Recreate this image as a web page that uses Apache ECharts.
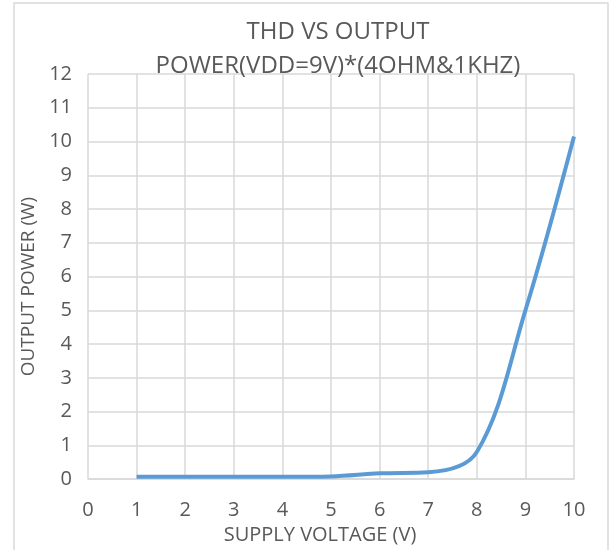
<!DOCTYPE html>
<html>
<head>
<meta charset="utf-8">
<script src="https://cdn.jsdelivr.net/npm/echarts@6/dist/echarts.min.js"></script>
<style>
  html, body { margin: 0; padding: 0; background: #fff; }
  #main { width: 611px; height: 550px; }
</style>
</head>
<body>
<div id="main"></div>
<script>
  // supply voltage (V) and output power (W)
  const voltage = [1, 2, 3, 4, 5, 6, 7, 8, 9, 10];
  const power = [0.07, 0.07, 0.07, 0.07, 0.08, 0.17, 0.2, 0.8, 5.0, 10.15];
  const xTicks = [0, 1, 2, 3, 4, 5, 6, 7, 8, 9, 10];
  const yTicks = [0, 1, 2, 3, 4, 5, 6, 7, 8, 9, 10, 11, 12];

  const font = '"Open Sans", sans-serif';
  const grey = '#595959';

  let myChart = echarts.init(document.getElementById('main'));
  let option = {
    backgroundColor: '#fff',
    animation: false,
    title: {
      text: 'THD VS OUTPUT\nPOWER(VDD=9V)*(4OHM&1KHZ)',
      left: 333,
      textAlign: 'center',
      top: 10,
      textStyle: {
        fontFamily: font,
        fontSize: 24,
        fontWeight: 'normal',
        color: grey,
        lineHeight: 34
      }
    },
    graphic: [{
      type: 'rect',
      shape: { x: 14, y: 3, width: 594, height: 560 },
      style: { fill: null, stroke: '#d9d9d9', lineWidth: 1.5 },
      silent: true
    }],
    grid: { left: 88, right: 37, top: 74, bottom: 70 },
    xAxis: {
      type: 'value',
      min: xTicks[0],
      max: xTicks[xTicks.length - 1],
      interval: 1,
      name: 'SUPPLY VOLTAGE (V)',
      nameLocation: 'middle',
      nameGap: 43,
      nameTextStyle: { fontFamily: font, fontSize: 20, color: grey, padding: [0, 22, 0, 0] },
      axisLine: { show: true, lineStyle: { color: '#d9d9d9', width: 1.5 } },
      axisTick: { show: false },
      axisLabel: { fontFamily: font, fontSize: 20, color: grey, margin: 21 },
      splitLine: { show: true, lineStyle: { color: '#d9d9d9', width: 1.5 } }
    },
    yAxis: {
      type: 'value',
      min: yTicks[0],
      max: yTicks[yTicks.length - 1],
      interval: 1,
      name: 'OUTPUT POWER (W)',
      nameLocation: 'middle',
      nameGap: 36,
      nameTextStyle: { fontFamily: font, fontSize: 19, color: grey, padding: [0, 20, 0, 0] },
      axisLine: { show: false },
      axisTick: { show: false },
      axisLabel: { fontFamily: font, fontSize: 20, color: grey, margin: 16 },
      splitLine: { show: true, lineStyle: { color: '#d9d9d9', width: 1.5 } }
    },
    series: [{
      type: 'line',
      data: voltage.map((v, i) => [v, power[i]]),
      smooth: 0.35,
      showSymbol: false,
      lineStyle: { color: '#5b9bd5', width: 4 },
      itemStyle: { color: '#5b9bd5' }
    }]
  };
  myChart.setOption(option);
</script>
</body>
</html>
